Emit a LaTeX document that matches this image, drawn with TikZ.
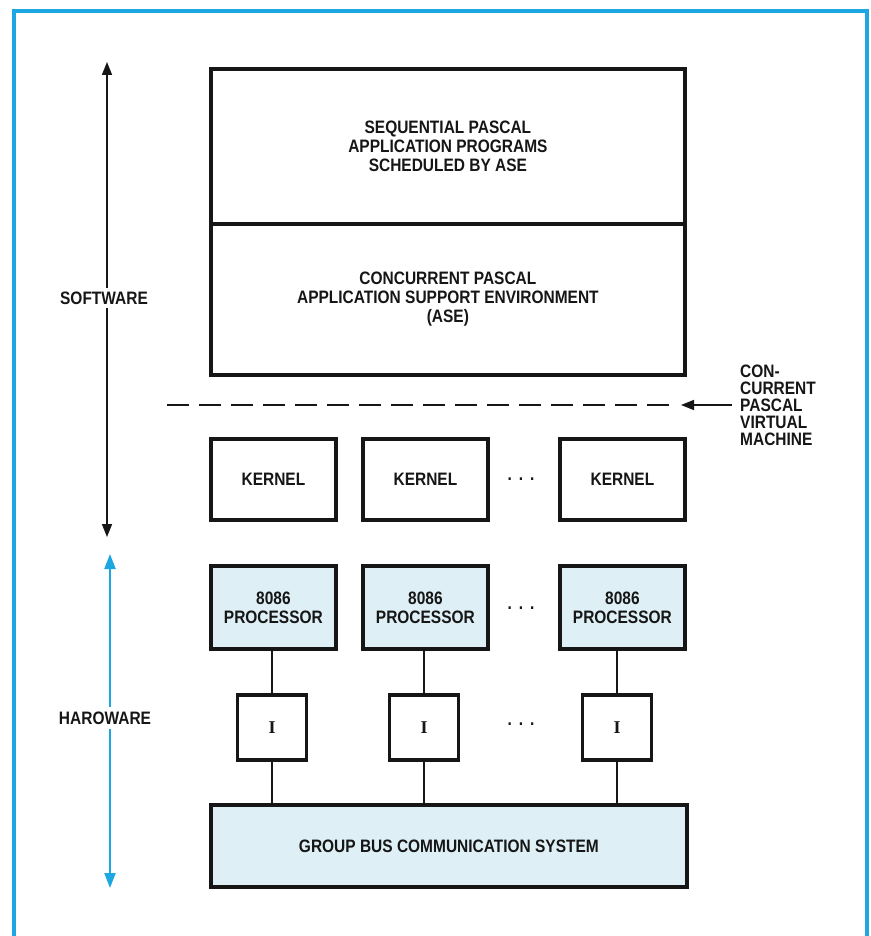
\documentclass[tikz,border=0pt]{standalone}
\usepackage{fontspec}
\setmainfont{Liberation Sans}
\newfontfamily\dfont[FakeStretch=0.86]{Liberation Sans}
\newfontfamily\ifont{Liberation Serif}
\usetikzlibrary{arrows.meta}
\definecolor{frameblue}{RGB}{28,166,226}
\definecolor{lightcyan}{RGB}{222,240,246}
\definecolor{ink}{RGB}{22,22,22}
\begin{document}
\begin{tikzpicture}[x=1pt,y=-1pt,
  txt/.style={font=\dfont\bfseries\fontsize{18}{19}\selectfont,text=ink},
  box/.style={txt,draw=ink,line width=3.8pt,inner sep=0pt,align=center,anchor=north west},
  kbox/.style={box,minimum width=125pt,minimum height=81pt},
  pbox/.style={box,fill=lightcyan,minimum width=125pt,minimum height=83pt},
  ibox/.style={box,anchor=north,minimum width=69pt,minimum height=65pt,font=\ifont\bfseries\fontsize{18}{19}\selectfont},
  wire/.style={draw=ink,line width=1.6pt},
  dotsn/.style={txt,inner sep=0pt},
  blackarrow/.style={draw=ink,line width=1.6pt,-{Triangle[length=13pt,width=10pt]}},
  bluearrow/.style={draw=frameblue,line width=2.2pt,-{Triangle[length=15pt,width=11pt]}},
]
\useasboundingbox (0,0) rectangle (870,936);
\fill[white] (0,0) rectangle (870,936);
% frame
\draw[frameblue,line width=4.5pt] (14,936) -- (14,11) -- (867,11) -- (867,936);

% top software boxes
\node[box,minimum width=474pt,minimum height=155pt] (seq) at (209,67)
  {SEQUENTIAL PASCAL\\APPLICATION PROGRAMS\\SCHEDULED BY ASE};
\node[box,minimum width=474pt,minimum height=151pt] (conc) at (209,222)
  {CONCURRENT PASCAL\\APPLICATION SUPPORT ENVIRONMENT\\(ASE)};

% kernels
\node[kbox] (k1) at (209,437) {KERNEL};
\node[kbox] (k2) at (361,437) {KERNEL};
\node[kbox] (k3) at (558,437) {KERNEL};
\node[dotsn] (kd) at (521,479) {.\hspace{7pt}.\hspace{7pt}.};

% processors
\node[pbox] (p1) at (209,564) {8086\\PROCESSOR};
\node[pbox] (p2) at (361,564) {8086\\PROCESSOR};
\node[pbox] (p3) at (558,564) {8086\\PROCESSOR};
\node[dotsn] (pd) at (521,608) {.\hspace{7pt}.\hspace{7pt}.};

% interfaces
\node[ibox] (i1) at (272,693) {I};
\node[ibox] (i2) at (424,693) {I};
\node[ibox] (i3) at (617,693) {I};
\node[dotsn] (id) at (521,724) {.\hspace{7pt}.\hspace{7pt}.};

% bus
\node[box,fill=lightcyan,minimum width=476pt,minimum height=82pt] (bus) at (209,803)
  {GROUP BUS COMMUNICATION SYSTEM};

% wires
\foreach \i in {1,2,3} {
  \draw[wire] (i\i.north) -- (i\i.north |- p\i.south);
  \draw[wire] (i\i.south) -- (i\i.south |- bus.north);
}

% software arrow
\coordinate (swtop) at (107,62);
\coordinate (swbot) at (107,537);
\node[txt,inner sep=3pt] (swl) at (104,298) {SOFTWARE};
\draw[blackarrow] (swl.north -| swtop) -- (swtop);
\draw[blackarrow] (swl.south -| swbot) -- (swbot);

% hardware arrow
\coordinate (hwtop) at (110,554);
\coordinate (hwbot) at (110,888);
\node[txt,inner sep=4pt] (hwl) at (105,718) {HAROWARE};
\draw[bluearrow] (hwl.north -| hwtop) -- (hwtop);
\draw[bluearrow] (hwl.south -| hwbot) -- (hwbot);

% virtual machine boundary
\coordinate (vmL) at (167,405);
\coordinate (vmR) at (672,405);
\coordinate (vmtip) at (681,405);
\coordinate (vmtail) at (732,405);
\draw[draw=ink,line width=1.8pt,dash pattern=on 22pt off 10pt] (vmL) -- (vmR);
\draw[blackarrow] (vmtail) -- (vmtip);
\node[txt,font=\dfont\bfseries\fontsize{18}{17}\selectfont,align=left,anchor=north west,inner sep=0pt] (vml) at (740,365)
  {CON-\\CURRENT\\PASCAL\\VIRTUAL\\MACHINE};
\end{tikzpicture}
\end{document}
